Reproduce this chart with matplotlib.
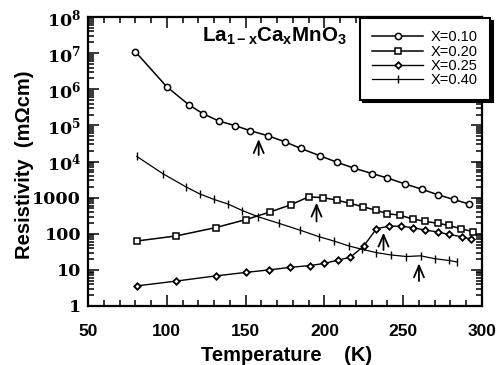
import matplotlib
matplotlib.use("Agg")
import matplotlib.pyplot as plt
from matplotlib.ticker import FixedLocator, FixedFormatter, MultipleLocator, LogLocator, NullFormatter

plt.rcParams['mathtext.fontset'] = 'custom'
plt.rcParams['mathtext.rm'] = 'DejaVu Serif:bold'
plt.rcParams['mathtext.sf'] = 'Liberation Sans:bold'
plt.rcParams['mathtext.bf'] = 'Liberation Sans:bold'

# ---------------- data ----------------
T_010 = [80, 100, 114, 123, 133, 143.5, 153, 164, 175, 185, 197, 208, 219, 230.5, 240, 251, 262, 272, 282, 292]
R_010 = [1.1e7, 1.17e6, 3.7e5, 2.1e5, 1.32e5, 9.8e4, 7.1e4, 5.2e4, 3.5e4, 2.3e4, 1.45e4, 9.5e3, 6.5e3,
         4.6e3, 3.5e3, 2.4e3, 1.7e3, 1.2e3, 890, 660]

T_020 = [81, 106, 131, 150, 165.5, 178.5, 190, 199, 208, 216.5, 224.5, 232.5, 240, 248, 256, 264, 272, 279, 286.5, 294]
R_020 = [63, 87, 148, 245, 400, 630, 1050, 1000, 850, 690, 560, 450, 360, 325, 257, 219, 195, 170, 138, 115]

T_025 = [81, 106, 131, 150, 165, 178, 191, 200, 208.5, 216.5, 225, 233, 241, 248.5, 256, 264, 272, 279, 287, 293]
R_025 = [3.6, 4.9, 6.8, 8.5, 10, 11.7, 13.2, 15.1, 18.6, 22.4, 45.7, 138, 162, 162, 148, 126, 112, 95.5, 83, 71]

T_040 = [81, 97.5, 112, 121, 130, 139, 148, 158, 171, 184.5, 196.5, 206, 215.5, 224, 233, 242, 252, 261, 270, 279, 284]
R_040 = [1.38e4, 4.6e3, 2.0e3, 1.26e3, 890, 660, 437, 295, 195, 126, 83, 63, 46, 37, 30, 26, 23.4, 24.5, 20.4, 18.2, 16.6]

labels = ["X=0.10", "X=0.20", "X=0.25", "X=0.40"]

# transition arrows: (T, tail R, head R)
arrow_T = [158.3, 195, 237.5, 260]
arrow_tail = [10**4.18, 10**2.34, 10**1.55, 10**0.69]
arrow_head = [10**4.62, 10**2.86, 10**2.03, 10**1.18]

x_ticks = [50, 100, 150, 200, 250, 300]
y_ticks = [1, 10, 100, 1000, 1e4, 1e5, 1e6, 1e7, 1e8]
y_ticklabels = ["1", "10", "100", "1000", r"$\mathrm{10^{4}}$", r"$\mathrm{10^{5}}$",
                r"$\mathrm{10^{6}}$", r"$\mathrm{10^{7}}$", r"$\mathrm{10^{8}}$"]

# ---------------- figure ----------------
fig = plt.figure(figsize=(5.02, 3.65), dpi=100)
ax = fig.add_axes([88/502, 1-306/365, (482-88)/502, (306-17)/365])

ax.plot(T_010, R_010, color='k', lw=1.1, marker='o', ms=4.5, mfc='white', mec='k', mew=1.1, label=labels[0])
ax.plot(T_020, R_020, color='k', lw=1.1, marker='s', ms=4.5, mfc='white', mec='k', mew=1.1, label=labels[1])
ax.plot(T_025, R_025, color='k', lw=1.0, marker='D', ms=3.3, mfc='white', mec='k', mew=1.3, label=labels[2])
ax.plot(T_040, R_040, color='k', lw=0.9, marker='|', ms=6, mec='k', mew=1.0, label=labels[3])

for t, r0, r1 in zip(arrow_T, arrow_tail, arrow_head):
    ax.annotate("", xy=(t, r1), xytext=(t, r0),
                arrowprops=dict(arrowstyle='->,head_length=0.7,head_width=0.3', lw=1.3, color='k',
                                shrinkA=0, shrinkB=0, mutation_scale=12))

ax.set_yscale('log')
ax.set_xlim(50, 300)
ax.set_ylim(1, 1e8)

ax.xaxis.set_major_locator(FixedLocator(x_ticks))
ax.xaxis.set_minor_locator(MultipleLocator(10))
ax.yaxis.set_major_locator(FixedLocator(y_ticks))
ax.yaxis.set_major_formatter(FixedFormatter(y_ticklabels))
ax.yaxis.set_minor_locator(LogLocator(base=10, subs=range(2, 10), numticks=20))
ax.yaxis.set_minor_formatter(NullFormatter())

ax.tick_params(which='both', direction='in', top=True, right=True, width=1.1)
ax.tick_params(which='major', length=8)
ax.tick_params(which='minor', length=4)
ax.tick_params(axis='x', pad=13)
ax.tick_params(axis='y', pad=5)
for lab in ax.get_xticklabels():
    lab.set_fontfamily('Liberation Sans')
    lab.set_fontweight('bold')
    lab.set_fontsize(12.5)
for lab in ax.get_yticklabels():
    lab.set_fontfamily('DejaVu Serif')
    lab.set_fontweight('bold')
    lab.set_fontsize(12.5)

for s in ax.spines.values():
    s.set_linewidth(1.6)

ax.set_xlabel("Temperature    (K)", fontfamily='Liberation Sans', fontweight='bold', fontsize=14.5)
ax.xaxis.set_label_coords(0.503, -0.14)
ax.set_ylabel("Resistivity  (mΩcm)", fontfamily='Liberation Sans', fontweight='bold', fontsize=14.5, va='center')
ax.yaxis.set_label_coords(-0.16, 0.49)

ax.text(0.289, 0.913, r"$\mathsf{La_{1-x}Ca_{x}MnO_{3}}$", transform=ax.transAxes,
        ha='left', va='baseline', fontsize=14.8)

leg = fig.legend(loc='upper left', bbox_to_anchor=(360/502, 1-18/365), borderaxespad=0,
                 prop={'family': 'Liberation Sans', 'size': 10.5}, handlelength=3.5,
                 handletextpad=0.5, labelspacing=0.02, borderpad=0.85, numpoints=1,
                 fancybox=False, edgecolor='k', framealpha=1,
                 shadow={'color': 'black', 'alpha': 1.0})
leg.get_frame().set_linewidth(1.5)

fig.savefig("out.png", dpi=100)
